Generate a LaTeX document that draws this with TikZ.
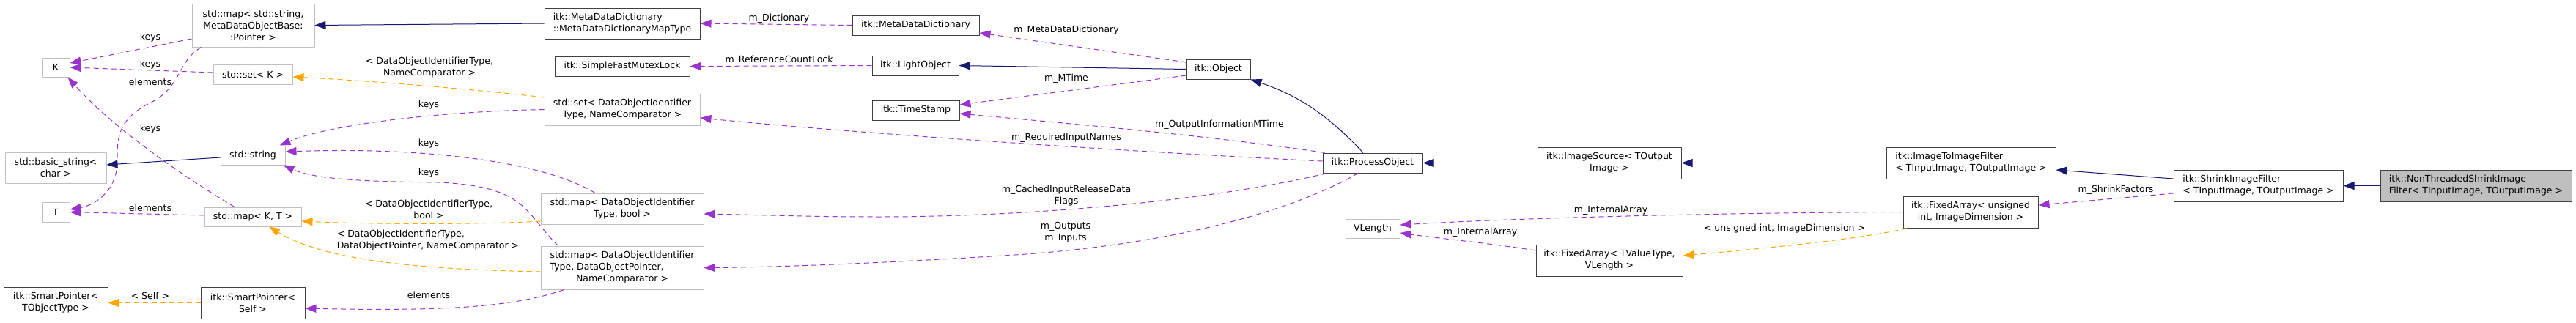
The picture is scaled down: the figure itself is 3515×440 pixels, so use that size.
\documentclass[tikz,border=0pt]{standalone}
\usepackage{fontspec}
\setmainfont{DejaVu Sans}
\usetikzlibrary{arrows.meta}
\definecolor{navyc}{HTML}{191970}
\definecolor{purp}{HTML}{9A32CD}
\definecolor{orng}{HTML}{FFA500}
\definecolor{grayb}{HTML}{BFBFBF}
\definecolor{darkb}{HTML}{404040}
\definecolor{ntfill}{HTML}{BFBFBF}
\tikzset{
  nbase/.style={draw, line width=1pt, inner sep=0pt, font=\fontsize{12.5}{16}\selectfont, align=center},
  gnode/.style={nbase, draw=grayb},
  dnode/.style={nbase, draw=darkb},
  lbl/.style={inner sep=0pt, font=\fontsize{12.5}{16}\selectfont, align=center},
  inh/.style={draw=navyc, line width=1pt, -{Triangle[length=15pt,width=11pt,fill=navyc]}},
  mem/.style={draw=purp, line width=1pt, dash pattern=on 7pt off 5pt, -{Triangle[length=15pt,width=11pt,fill=purp]}},
  tmpl/.style={draw=orng, line width=1pt, dash pattern=on 7pt off 5pt, -{Triangle[length=15pt,width=11pt,fill=orng]}},
}
\begin{document}
\begin{tikzpicture}[x=1pt, y=-1pt]
\useasboundingbox (0,0) rectangle (3515,440);
% nodes
\node[gnode, minimum width=167pt, minimum height=59pt] (mapSS) at (345.5,34.5) {std::map< std::string,\\MetaDataObjectBase:\\:Pointer >};
\node[gnode, minimum width=38pt, minimum height=26pt] (K) at (76,92) {K};
\node[gnode, minimum width=108pt, minimum height=27pt] (setK) at (345,101.5) {std::set< K >};
\node[gnode, minimum width=88pt, minimum height=26pt] (string) at (345,212) {std::string};
\node[gnode, minimum width=138pt, minimum height=42pt] (bstring) at (76,229) {std::basic\_string<\\char >};
\node[gnode, minimum width=38pt, minimum height=27pt] (T) at (76,289.5) {T};
\node[gnode, minimum width=132pt, minimum height=26pt] (mapKT) at (345,296) {std::map< K, T >};
\node[dnode, minimum width=142pt, minimum height=43pt] (SPT) at (76,413.5) {itk::SmartPointer<\\TObjectType >};
\node[dnode, minimum width=142pt, minimum height=43pt] (SPS) at (345,413.5) {itk::SmartPointer<\\Self >};
\node[dnode, align=left, minimum width=212pt, minimum height=42pt] (MDDMap) at (849,32) {itk::MetaDataDictionary\\::MetaDataDictionaryMapType};
\node[dnode, minimum width=184pt, minimum height=27pt] (SFML) at (849,90.5) {itk::SimpleFastMutexLock};
\node[gnode, minimum width=212pt, minimum height=43pt] (setDOI) at (849,149.5) {std::set< DataObjectIdentifier\\Type, NameComparator >};
\node[gnode, minimum width=222pt, minimum height=42pt] (mapDOIb) at (849,285) {std::map< DataObjectIdentifier\\Type, bool >};
\node[gnode, minimum width=222pt, minimum height=59pt] (mapDOIp) at (849,365.5) {\begin{tabular}{@{}l@{}}std::map< DataObjectIdentifier\\Type, DataObjectPointer,\\\multicolumn{1}{@{}c@{}}{NameComparator >}\end{tabular}};
\node[dnode, minimum width=173pt, minimum height=27pt] (MDD) at (1249.5,34.5) {itk::MetaDataDictionary};
\node[dnode, minimum width=118pt, minimum height=27pt] (LO) at (1249,89.5) {itk::LightObject};
\node[dnode, minimum width=119pt, minimum height=27pt] (TS) at (1249.5,150.5) {itk::TimeStamp};
\node[dnode, minimum width=87pt, minimum height=27pt] (Obj) at (1662.5,94.5) {itk::Object};
\node[dnode, minimum width=136pt, minimum height=27pt] (PO) at (1873,222.5) {itk::ProcessObject};
\node[gnode, minimum width=74pt, minimum height=26pt] (VL) at (1873,312) {VLength};
\node[dnode, minimum width=196pt, minimum height=43pt] (IS) at (2196,222.5) {itk::ImageSource< TOutput\\Image >};
\node[dnode, minimum width=200pt, minimum height=43pt] (FATV) at (2196,355.5) {itk::FixedArray< TValueType,\\VLength >};
\node[dnode, align=left, minimum width=231pt, minimum height=43pt] (I2I) at (2689.5,222.5) {itk::ImageToImageFilter\\< TInputImage, TOutputImage >};
\node[dnode, minimum width=184pt, minimum height=43pt] (FAui) at (2689,289.5) {itk::FixedArray< unsigned\\int, ImageDimension >};
\node[dnode, align=left, minimum width=231pt, minimum height=43pt] (Shrink) at (3081.5,253.5) {itk::ShrinkImageFilter\\< TInputImage, TOutputImage >};
\node[dnode, align=left, fill=ntfill, minimum width=261pt, minimum height=43pt] (NT) at (3378.5,253.5) {itk::NonThreadedShrinkImage\\Filter< TInputImage, TOutputImage >};
% edges
\draw[inh] (MDDMap.west) -- (mapSS.east);
\draw[mem] (MDD.west) -- (MDDMap.east);
\draw[mem] (LO.west) -- (SFML.east);
\draw[mem] ([yshift=9.5pt]Obj.west) -- ([yshift=-10.5pt]MDD.east);
\draw[inh] (Obj.west) -- (LO.east);
\draw[mem] ([yshift=-8.5pt]Obj.west) -- ([yshift=7.5pt]TS.east);
\draw[inh] ([xshift=-13pt]PO.north) .. controls (1810,155) and (1770,130) .. (Obj.south east);
\draw[mem] ([xshift=3pt]PO.north west) .. controls (1650,185) and (1450,168) .. ([yshift=-4.5pt]TS.east);
\draw[mem] ([yshift=2.5pt]PO.west) .. controls (1500,205) and (1150,180) .. ([yshift=-11.5pt]setDOI.east);
\draw[mem] ([xshift=6pt]PO.south west) .. controls (1650,275) and (1400,296) .. (1200,296) .. controls (1100,296) and (1020,293) .. ([yshift=-7pt]mapDOIb.east);
\draw[mem] ([xshift=-20pt]PO.south) .. controls (1760,290) and (1600,332) .. (1400,347) .. controls (1200,360) and (1050,365) .. (mapDOIp.east);
\draw[inh] (IS.west) -- (PO.east);
\draw[inh] (I2I.west) -- (IS.east);
\draw[inh] ([yshift=9.5pt]Shrink.west) -- ([yshift=-9.5pt]I2I.east);
\draw[inh] (NT.west) -- (Shrink.east);
\draw[mem] ([yshift=-10.5pt]Shrink.west) -- ([yshift=9.5pt]FAui.east);
\draw[mem] (FAui.west) .. controls (2400,290) and (2100,296) .. ([yshift=5pt]VL.east);
\draw[mem] ([yshift=13.5pt]FATV.west) .. controls (2040,333) and (1960,325) .. ([yshift=-6pt]VL.east);
\draw[tmpl] ([xshift=5pt]FAui.south west) .. controls (2550,325) and (2420,338) .. ([yshift=6.5pt]FATV.east);
\draw[tmpl] ([yshift=16.5pt]setDOI.west) .. controls (650,122) and (500,110) .. ([yshift=-3.5pt]setK.east);
\draw[mem] (setDOI.west) .. controls (600,152) and (450,170) .. ([xshift=-8pt]string.north east);
\draw[mem] ([xshift=-37pt]mapDOIb.north) .. controls (750,225) and (600,200) .. ([yshift=5pt]string.east);
\draw[mem] ([xshift=24pt]mapDOIp.north west) .. controls (715,290) and (720,255) .. (600,249) .. controls (500,248) and (430,245) .. ([xshift=-3pt]string.south east);
\draw[tmpl] ([yshift=-17pt]mapDOIb.west) .. controls (650,307) and (500,306) .. ([yshift=-6pt]mapKT.east);
\draw[tmpl] ([yshift=-5.5pt]mapDOIp.west) .. controls (600,368) and (450,360) .. ([xshift=22pt]mapKT.south);
\draw[mem] ([xshift=32pt]mapDOIp.south west) .. controls (700,420) and (600,425) .. ([yshift=-7.5pt]SPS.east);
\draw[tmpl] (SPS.west) -- (SPT.east);
\draw[mem] ([yshift=-18.5pt]mapSS.west) -- ([yshift=6pt]K.east);
\draw[mem] ([yshift=2.5pt]setK.west) -- (K.east);
\draw[mem] ([xshift=13pt]mapSS.south west) .. controls (240,85) and (250,120) .. (200,143) .. controls (160,165) and (160,190) .. (160,220) .. controls (160,260) and (130,280) .. ([yshift=3.5pt]T.east);
\draw[mem] ([xshift=-25pt]mapKT.north) .. controls (240,235) and (150,170) .. ([xshift=-3pt]K.south east);
\draw[mem] ([yshift=2pt]mapKT.west) -- (T.east);
\draw[inh] ([yshift=-3pt]string.west) -- ([yshift=4pt]bstring.east);
% labels
\node[lbl] (l1) at (205,51) {keys};
\node[lbl] (l2) at (205,88) {keys};
\node[lbl] (l3) at (205,112) {elements};
\node[lbl] (l4) at (205,176) {keys};
\node[lbl] (l5) at (205,284) {elements};
\node[lbl] (l6) at (205,404) {< Self >};
\node[lbl] (l7) at (586,92) {< DataObjectIdentifierType,\\NameComparator >};
\node[lbl] (l8) at (585,143) {keys};
\node[lbl] (l9) at (585,196) {keys};
\node[lbl] (l10) at (585,236) {keys};
\node[lbl] (l11) at (585,286) {< DataObjectIdentifierType,\\bool >};
\node[lbl, align=left] (l12) at (584,328) {< DataObjectIdentifierType,\\DataObjectPointer, NameComparator >};
\node[lbl] (l13) at (585,403) {elements};
\node[lbl] (l14) at (1063,25) {m\_Dictionary};
\node[lbl] (l15) at (1063,82) {m\_ReferenceCountLock};
\node[lbl] (l16) at (1455,41) {m\_MetaDataDictionary};
\node[lbl] (l17) at (1455,107) {m\_MTime};
\node[lbl] (l18) at (1664,170) {m\_OutputInformationMTime};
\node[lbl] (l19) at (1455,188) {m\_RequiredInputNames};
\node[lbl] (l20) at (1455,267.5) {m\_CachedInputReleaseData\\Flags};
\node[lbl] (l21) at (1454,317) {m\_Outputs\\m\_Inputs};
\node[lbl] (l22) at (2198,287) {m\_InternalArray};
\node[lbl] (l23) at (2020,317) {m\_InternalArray};
\node[lbl] (l24) at (2435,312) {< unsigned int, ImageDimension >};
\node[lbl] (l25) at (2887,259) {m\_ShrinkFactors};
\end{tikzpicture}
\end{document}
